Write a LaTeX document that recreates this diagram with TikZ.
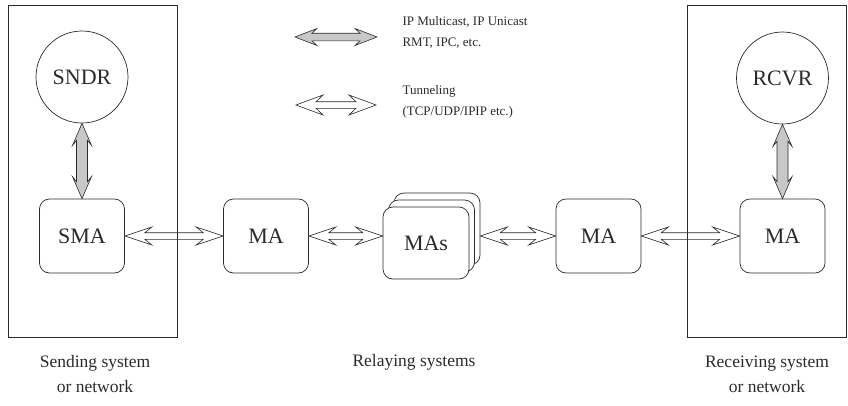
\documentclass[tikz,border=0pt]{standalone}
\usepackage{fontspec}
\setmainfont{Liberation Serif}
\usetikzlibrary{calc}
\definecolor{ink}{HTML}{2A2A2A}
\definecolor{pipe}{HTML}{C8C8C8}

% Double-headed block arrow from #2 to #3.
% #4 head length, #5 distance from tip to where the barb meets the shaft,
% #6 half width of the head, #7 half width of the shaft.
\newcommand\blockarrow[7][]{%
  \draw[arrowline,#1] (#2)
    -- ($(#2)!#4!(#3)!#6!90:(#3)$)
    -- ($(#2)!#5!(#3)!#7!90:(#3)$)
    -- ($(#3)!#5!(#2)!#7!-90:(#2)$)
    -- ($(#3)!#4!(#2)!#6!-90:(#2)$)
    -- (#3)
    -- ($(#3)!#4!(#2)!#6!90:(#2)$)
    -- ($(#3)!#5!(#2)!#7!90:(#2)$)
    -- ($(#2)!#5!(#3)!#7!-90:(#3)$)
    -- ($(#2)!#4!(#3)!#6!-90:(#3)$)
    -- cycle;}

\begin{document}
\begin{tikzpicture}[x=1pt,y=-1pt,
  every node/.style={text=ink},
  agent/.style={draw=ink, line width=0.7pt, rounded corners=10pt,
    minimum width=85pt, minimum height=74pt, inner sep=0pt, fill=white,
    font=\fontsize{22}{26}\selectfont},
  host/.style={draw=ink, line width=0.7pt, circle, minimum size=92pt,
    inner sep=0pt, font=\fontsize{22}{26}\selectfont},
  sysbox/.style={draw=ink, line width=0.7pt},
  caption/.style={align=center, font=\fontsize{17.5}{25}\selectfont},
  legend/.style={anchor=west, align=left, font=\fontsize{13}{21}\selectfont},
  arrowline/.style={draw=ink, line width=0.6pt, fill=white, line join=miter},
  greyarrow/.style={fill=pipe}]
\useasboundingbox (0,0) rectangle (848,405);

% end hosts
\node[host] (sndr) at (82,77) {SNDR};
\node[host] (rcvr) at (782.5,78) {RCVR};

% multicast agents
\node[agent] (sma) at (82,236) {SMA};
\node[agent] (ma1) at (266,236) {MA};
\node[agent, minimum width=86pt, minimum height=72pt] (mas3) at (437,229) {};
\node[agent, minimum width=86pt, minimum height=72pt] (mas2) at (431.5,236) {};
\node[agent, minimum width=86pt, minimum height=72pt] (mas1) at (426,243) {MAs};
\node[agent] (ma3) at (598.5,236) {MA};
\node[agent] (ma4) at (782.5,236) {MA};

% legend
\coordinate (lg1) at (295,37);
\coordinate (lg2) at (377,37);
\coordinate (lt1) at (296,105);
\coordinate (lt2) at (376,105);
\blockarrow[greyarrow]{lg1}{lg2}{22pt}{17pt}{8.5pt}{3.8pt}
\blockarrow{lt1}{lt2}{27pt}{20pt}{10pt}{3.3pt}
\node[legend] (lgtext) at (399,32.5) {IP Multicast, IP Unicast\\RMT, IPC, etc.};
\node[legend] (lttext) at (399,102) {Tunneling\\(TCP/UDP/IPIP etc.)};

% host to agent links
\blockarrow[greyarrow]{sndr.south}{sma.north}{22pt}{17pt}{9.5pt}{5.5pt}
\blockarrow[greyarrow]{rcvr.south}{ma4.north}{22pt}{17pt}{9.5pt}{5.5pt}

% tunnels between agents
\blockarrow{sma.east}{ma1.west}{27pt}{20pt}{9pt}{3.3pt}
\blockarrow{ma1.east}{mas1.west |- ma1.east}{27pt}{20pt}{9pt}{3.3pt}
\blockarrow{mas3.east |- ma3.west}{ma3.west}{27pt}{20pt}{9pt}{3.3pt}
\blockarrow{ma3.east}{ma4.west}{27pt}{20pt}{9pt}{3.3pt}

% system boundaries
\draw[sysbox] (8,5) rectangle (177,337);
\draw[sysbox] (687,5) rectangle (846,337);

% captions
\node[caption] (capS) at (95,374.5) {Sending system\\or network};
\node[caption] (capR) at (414,362) {Relaying systems};
\node[caption] (capV) at (767,374.5) {Receiving system\\or network};
\end{tikzpicture}
\end{document}
